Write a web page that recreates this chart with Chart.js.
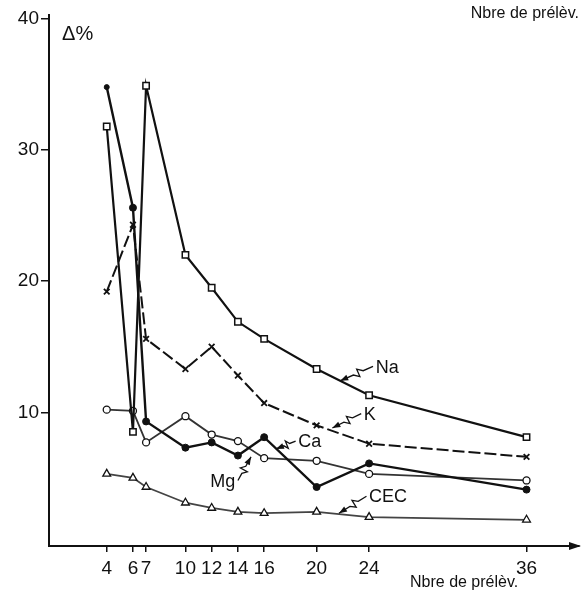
<!DOCTYPE html>
<html>
<head>
<meta charset="utf-8">
<script src="https://cdn.jsdelivr.net/npm/chart.js@4/dist/chart.umd.min.js"></script>
<style>
  body { margin: 0; background: #fff; }
  #wrap { width: 585px; height: 601px; }
</style>
</head>
<body>
<div id="wrap"><canvas id="chart"></canvas></div>
<script>
// Nbre de prélèvements (x) and variation Δ% per element
const samples = [4, 6, 7, 10, 12, 14, 16, 20, 24, 36];
const naValues = [31.8, 8.5, 34.9, 22.0, 19.5, 16.9, 15.6, 13.3, 11.3, 8.1];
const kValues = [19.2, 24.3, 15.6, 13.3, 15.0, 12.8, 10.7, 9.0, 7.6, 6.6];
const caValues = [34.8, 25.6, 9.3, 7.3, 7.7, 6.7, 8.1, 4.3, 6.1, 4.1];
const mgValues = [10.2, 10.1, 7.7, 9.7, 8.3, 7.8, 6.5, 6.3, 5.3, 4.8];
const cecValues = [5.3, 5.0, 4.3, 3.1, 2.7, 2.4, 2.3, 2.4, 2.0, 1.8];
const yTicks = [10, 20, 30, 40];

const FONT = "'Liberation Sans', Arial, sans-serif";

function pts(vals) {
    return samples.map((s, i) => ({ x: s, y: vals[i] }));
}

// series labels with little zigzag leaders, placed in data coords
const seriesLabels = [
    { text: "Na", tx: 24.5, ty: 13.4, sx: 24.3, sy: 13.5, ex: 21.8, ey: 12.4, align: "left" },
    { text: "K", tx: 23.6, ty: 9.8, sx: 23.4, sy: 9.9, ex: 21.2, ey: 8.8, align: "left" },
    { text: "Ca", tx: 18.6, ty: 7.7, sx: 18.4, sy: 7.8, ex: 16.9, ey: 7.2, align: "left" },
    { text: "Mg", tx: 13.8, ty: 4.65, sx: 14.0, sy: 4.8, ex: 15.0, ey: 6.6, align: "right" },
    { text: "CEC", tx: 24.0, ty: 3.5, sx: 23.8, sy: 3.6, ex: 21.7, ey: 2.3, align: "left" }
];

const annotate = {
    id: "annotate",
    afterDraw(chart) {
        const c = chart.ctx;
        const xs = chart.scales.x, ys = chart.scales.y;
        const area = chart.chartArea;
        c.save();
        c.fillStyle = "#111";
        c.strokeStyle = "#111";

        // arrow head on x axis
        c.beginPath();
        c.moveTo(area.right + 2, area.bottom);
        c.lineTo(area.right - 10, area.bottom - 4);
        c.lineTo(area.right - 10, area.bottom + 4);
        c.closePath();
        c.fill();

        c.font = "18px " + FONT;
        c.textBaseline = "middle";
        seriesLabels.forEach(l => {
            c.textAlign = l.align;
            c.fillText(l.text, xs.getPixelForValue(l.tx), ys.getPixelForValue(l.ty));
            const sx = xs.getPixelForValue(l.sx), sy = ys.getPixelForValue(l.sy);
            const ex = xs.getPixelForValue(l.ex), ey = ys.getPixelForValue(l.ey);
            const dx = ex - sx, dy = ey - sy;
            const len = Math.hypot(dx, dy);
            const ux = dx / len, uy = dy / len;
            const nx = -uy, ny = ux;
            c.lineWidth = 1.3;
            c.beginPath();
            c.moveTo(sx, sy);
            const a = 0.3, b = 0.45, d = 0.6;
            c.lineTo(sx + dx * a, sy + dy * a);
            c.lineTo(sx + dx * b + nx * 4, sy + dy * b + ny * 4);
            c.lineTo(sx + dx * b - nx * 4, sy + dy * b - ny * 4);
            c.lineTo(sx + dx * d, sy + dy * d);
            c.lineTo(ex, ey);
            c.stroke();
            c.beginPath();
            c.moveTo(ex, ey);
            c.lineTo(ex - ux * 8 + nx * 3, ey - uy * 8 + ny * 3);
            c.lineTo(ex - ux * 8 - nx * 3, ey - uy * 8 - ny * 3);
            c.closePath();
            c.fill();
        });

        // Δ% label and axis titles
        c.textAlign = "left";
        c.font = "20px " + FONT;
        c.fillText("Δ%", xs.getPixelForValue(0.6), ys.getPixelForValue(38.8));
        c.font = "16px " + FONT;
        c.textAlign = "right";
        c.fillText("Nbre de prélèv.", area.right, 14);
        c.textAlign = "left";
        c.fillText("Nbre de prélèv.", 410, 583);
        c.restore();
    }
};

const ctx = document.getElementById("chart").getContext("2d");
new Chart(ctx, {
    type: "line",
    data: {
        datasets: [
            {
                label: "Na", data: pts(naValues),
                borderColor: "#111", borderWidth: 2.2,
                pointStyle: "rect", pointRadius: 4.5,
                pointBackgroundColor: "#fff", pointBorderColor: "#111", pointBorderWidth: 1.5
            },
            {
                label: "K", data: pts(kValues),
                borderColor: "#111", borderWidth: 2, borderDash: [12, 4],
                pointStyle: "crossRot", pointRadius: 4,
                pointBorderColor: "#111", pointBorderWidth: 1.8
            },
            {
                label: "Ca", data: pts(caValues),
                borderColor: "#111", borderWidth: 2.4,
                pointStyle: "circle",
                pointRadius: c => c.dataIndex === 0 ? 2.5 : 3.5,
                pointBackgroundColor: "#111", pointBorderColor: "#111", pointBorderWidth: 1
            },
            {
                label: "Mg", data: pts(mgValues),
                borderColor: "#333", borderWidth: 1.8,
                pointStyle: "circle", pointRadius: 3.5,
                pointBackgroundColor: "#fff", pointBorderColor: "#111", pointBorderWidth: 1.3
            },
            {
                label: "CEC", data: pts(cecValues),
                borderColor: "#444", borderWidth: 1.8,
                pointStyle: "triangle", pointRadius: 4.5,
                pointBackgroundColor: "#fff", pointBorderColor: "#111", pointBorderWidth: 1.3
            }
        ]
    },
    options: {
        responsive: true,
        maintainAspectRatio: false,
        animation: false,
        layout: { padding: { top: 15, right: 5, left: 0, bottom: 0 } },
        plugins: { legend: { display: false }, tooltip: { enabled: false } },
        scales: {
            x: {
                type: "linear", min: -0.4, max: 40,
                afterBuildTicks: s => { s.ticks = samples.map(v => ({ value: v })); },
                afterFit: s => { s.height = 55; },
                grid: { drawOnChartArea: false, color: "#111", tickLength: 6, lineWidth: 1.5 },
                border: { display: true, color: "#111", width: 2 },
                ticks: { color: "#111", font: { family: FONT, size: 19 }, padding: 5, maxRotation: 0, autoSkip: false }
            },
            y: {
                type: "linear", min: -0.2, max: 40.3,
                afterBuildTicks: s => { s.ticks = yTicks.map(v => ({ value: v })); },
                afterFit: s => { s.width = 49; },
                grid: { drawOnChartArea: false, color: "#111", tickLength: 8, lineWidth: 1.5 },
                border: { display: true, color: "#111", width: 2 },
                ticks: { color: "#111", font: { family: FONT, size: 19 }, padding: 2 }
            }
        }
    },
    plugins: [annotate]
});
</script>
</body>
</html>
